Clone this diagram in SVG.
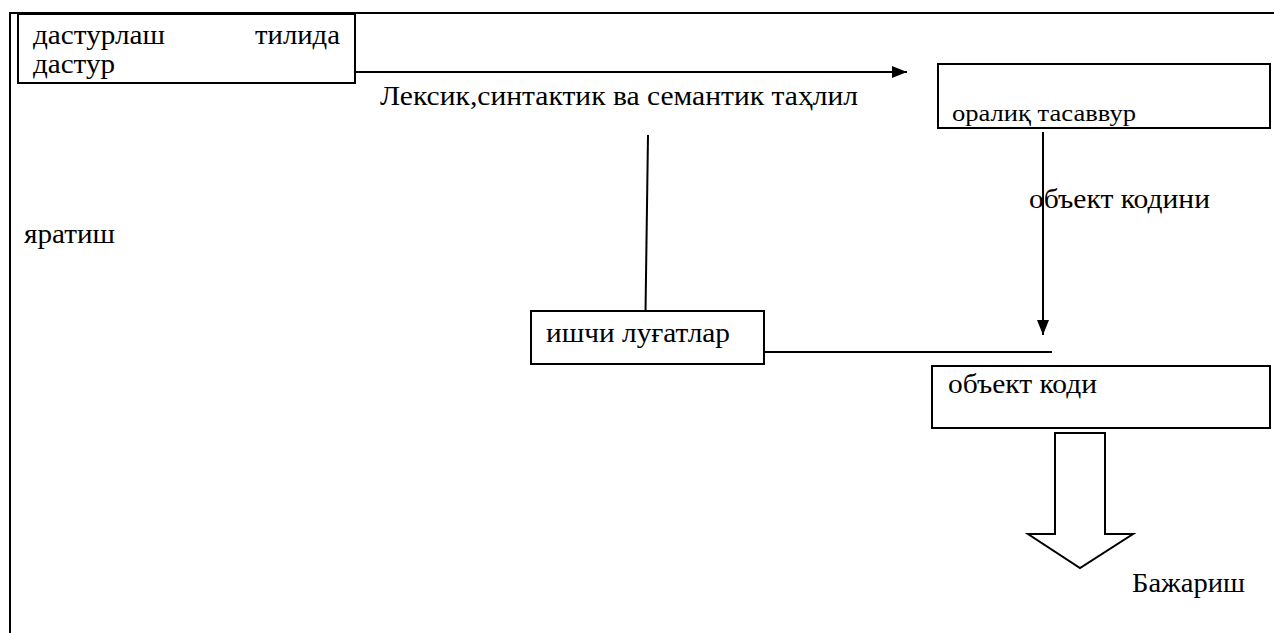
<svg xmlns="http://www.w3.org/2000/svg" width="1274" height="633" viewBox="0 0 1274 633">
<style>
  .box{fill:#fff;stroke:#000;stroke-width:2}
  .ln{fill:none;stroke:#000;stroke-width:2}
  text{fill:#000;font-size:27px}
  text.ts{font-size:24px}
</style>
<defs>
  <marker id="ah" markerWidth="16" markerHeight="12" refX="15" refY="6" orient="auto" markerUnits="userSpaceOnUse">
    <path d="M0,0 L15,6 L0,12 Z" fill="#000"/>
  </marker>
</defs>
<g id="frame">
  <line class="ln" x1="10" y1="13" x2="1274" y2="13"/>
  <line class="ln" x1="10" y1="12" x2="10" y2="633"/>
</g>
<g id="connectors">
  <line class="ln" x1="350" y1="72" x2="907" y2="72" marker-end="url(#ah)"/>
  <line class="ln" x1="648" y1="135" x2="645" y2="348"/>
  <line class="ln" x1="758" y1="352" x2="1052" y2="352"/>
  <line class="ln" x1="1043" y1="132" x2="1043" y2="335" marker-end="url(#ah)"/>
  <polygon id="exec-arrow" class="ln" points="1055,433 1105,433 1105,534 1133,534 1080,568 1028,534 1055,534"/>
</g>
<g font-family="Liberation Serif, Tinos, Times New Roman, DejaVu Serif, Noto Serif, FreeSerif, serif">
<g id="node-source">
  <rect class="box" x="18" y="14" width="337" height="69"/>
  <text x="33" y="44" textLength="132" lengthAdjust="spacingAndGlyphs">дастурлаш</text>
  <text x="255" y="44" textLength="85" lengthAdjust="spacingAndGlyphs">тилида</text>
  <text x="33" y="73" textLength="82" lengthAdjust="spacingAndGlyphs">дастур</text>
</g>
<g id="label-analysis">
  <text x="380" y="105" textLength="478" lengthAdjust="spacingAndGlyphs">Лексик,синтактик ва семантик таҳлил</text>
</g>
<g id="node-ir">
  <rect class="box" x="938" y="64" width="332" height="64"/>
  <text class="ts" x="952" y="121" textLength="184" lengthAdjust="spacingAndGlyphs">оралиқ тасаввур</text>
</g>
<g id="label-codegen">
  <text x="1029" y="208" textLength="181" lengthAdjust="spacingAndGlyphs">объект кодини</text>
</g>
<g id="label-create">
  <text x="24" y="243" textLength="91" lengthAdjust="spacingAndGlyphs">яратиш</text>
</g>
<g id="node-dict">
  <rect class="box" x="531" y="311" width="233" height="53"/>
  <text x="546" y="342" textLength="184" lengthAdjust="spacingAndGlyphs">ишчи луғатлар</text>
</g>
<g id="node-obj">
  <rect class="box" x="932" y="366" width="338" height="62"/>
  <text x="948" y="393" textLength="149" lengthAdjust="spacingAndGlyphs">объект коди</text>
</g>
<g id="label-exec">
  <text x="1132" y="592" textLength="113" lengthAdjust="spacingAndGlyphs">Бажариш</text>
</g>
</g>
</svg>
